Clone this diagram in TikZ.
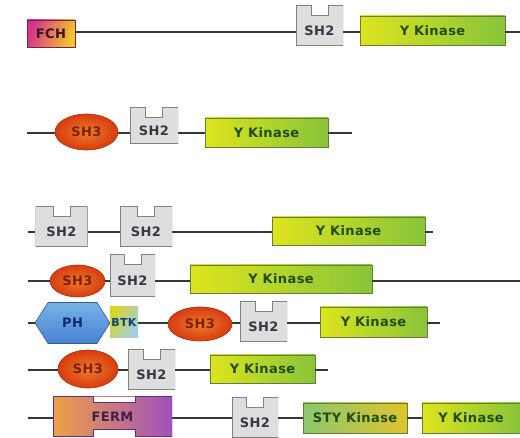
\documentclass[tikz,border=0pt]{standalone}
\usepackage{fontspec}
\usetikzlibrary{shapes.geometric,shapes.symbols}
\newfontfamily\domfont[LetterSpace=3]{DejaVu Sans}
\definecolor{kinYellow}{RGB}{222,228,30}
\definecolor{kinGreen}{RGB}{136,196,58}
\definecolor{kinEdge}{RGB}{96,130,50}
\definecolor{kinText}{RGB}{30,78,20}
\definecolor{styGreen}{RGB}{140,198,110}
\definecolor{styGold}{RGB}{224,196,44}
\definecolor{shTwoFill}{RGB}{222,222,222}
\definecolor{shTwoEdge}{RGB}{130,130,130}
\definecolor{shTwoText}{RGB}{55,55,70}
\definecolor{shThreeIn}{RGB}{242,122,40}
\definecolor{shThreeOut}{RGB}{214,60,16}
\definecolor{shThreeText}{RGB}{120,36,10}
\definecolor{fchPink}{RGB}{212,50,140}
\definecolor{fchYellow}{RGB}{240,200,40}
\definecolor{phLight}{RGB}{120,178,232}
\definecolor{phDark}{RGB}{70,130,208}
\definecolor{phText}{RGB}{20,40,110}
\definecolor{btkYellow}{RGB}{215,215,40}
\definecolor{btkBlue}{RGB}{160,205,230}
\definecolor{fermOrange}{RGB}{240,160,70}
\definecolor{fermPink}{RGB}{210,100,180}
\definecolor{fermPurple}{RGB}{160,80,190}
\definecolor{chainGrey}{RGB}{55,55,55}

\begin{document}
\begin{tikzpicture}[x=1pt, y=-1pt,
    dom/.style={inner sep=0pt, line width=0.6pt, font=\domfont\bfseries\fontsize{13}{13}\selectfont},
    ykin/.style={dom, rectangle, draw=kinEdge, left color=kinYellow, right color=kinGreen, text=kinText, minimum height=29},
    sty/.style={dom, rectangle, draw=kinEdge, left color=styGreen, right color=styGold, text=kinText, minimum height=30},
    sh3/.style={dom, ellipse, draw=shThreeOut!80!black, inner color=shThreeIn, outer color=shThreeOut, text=shThreeText},
    sh2/.style={dom, rectangle, fill=shTwoFill, text=shTwoText, minimum width=47, minimum height=40,
        text height=19.5pt, text depth=0pt,
        path picture={
            \fill[white] ([xshift=-8.5pt]path picture bounding box.north) rectangle ([xshift=8.5pt,yshift=-10pt]path picture bounding box.north);
            \draw[shTwoEdge, line width=1pt] (path picture bounding box.south west) -- (path picture bounding box.north west)
                -- ([xshift=-8.5pt]path picture bounding box.north) -- ++(0pt,-10pt) -- ++(17pt,0pt)
                -- ([xshift=8.5pt]path picture bounding box.north) -- (path picture bounding box.north east)
                -- (path picture bounding box.south east) -- cycle;
        }},
    fch/.style={dom, rectangle, draw=fchPink!60!black, left color=fchPink, right color=fchYellow, shading angle=70, text=fchPink!30!black},
    ph/.style={dom, signal, signal to=west and east, signal pointer angle=115, draw=phDark!70!black, top color=phLight, bottom color=phDark, text=phText},
    btk/.style={dom, rectangle, left color=btkYellow, right color=btkBlue, shading angle=60, text=phText!70!teal, font=\domfont\bfseries\fontsize{11}{11}\selectfont},
    ferm/.style={dom, rectangle, left color=fermOrange, middle color=fermPink, right color=fermPurple, text=fermPurple!40!black,
        path picture={
            \fill[white] ([xshift=40pt]path picture bounding box.north west) rectangle ([xshift=82pt,yshift=-6pt]path picture bounding box.north west);
            \fill[white] ([xshift=40pt]path picture bounding box.south west) rectangle ([xshift=82pt,yshift=7pt]path picture bounding box.south west);
            \draw[fermPurple!60!black, line width=1pt] (path picture bounding box.south west) -- (path picture bounding box.north west)
                -- ++(40pt,0pt) -- ++(0pt,-6pt) -- ++(42pt,0pt) -- ++(0pt,6pt) -- (path picture bounding box.north east)
                -- (path picture bounding box.south east) -- ++(-37pt,0pt) -- ++(0pt,7pt) -- ++(-42pt,0pt) -- ++(0pt,-7pt) -- cycle;
        }},
    chain/.style={chainGrey, line width=1.5pt}
]
\useasboundingbox (0,0) rectangle (520,438);

% row 1
\coordinate (c1) at (520,32);
\node[fch, minimum width=48, minimum height=27] (fch) at (51,33.5) {FCH};
\node[sh2] (sh2a) at (319.5,26) {SH2};
\node[ykin, minimum width=145] (yka) at (432.5,30.5) {Y Kinase};
\foreach \a/\b in {fch/sh2a, sh2a/yka}
    \draw[chain] (c1 -| \a.east) -- (c1 -| \b.west);
\draw[chain] (c1 -| yka.east) -- (c1);

% row 2
\coordinate (n2) at (27,133);
\coordinate (c2) at (352,133);
\node[sh3, minimum width=63, minimum height=36] (sh3b) at (86.5,132) {SH3};
\node[sh2, minimum width=48, minimum height=36] (sh2b) at (154,126) {SH2};
\node[ykin, minimum width=123] (ykb) at (266.5,132.5) {Y Kinase};
\draw[chain] (n2) -- (n2 -| sh3b.west);
\foreach \a/\b in {sh3b/sh2b, sh2b/ykb}
    \draw[chain] (n2 -| \a.east) -- (n2 -| \b.west);
\draw[chain] (n2 -| ykb.east) -- (c2);

% row 3
\coordinate (n3) at (28,232);
\coordinate (c3) at (433,232);
\node[sh2, minimum width=52] (sh2c) at (61.5,227) {SH2};
\node[sh2, minimum width=52] (sh2d) at (146,227) {SH2};
\node[ykin, minimum width=153, minimum height=28] (ykc) at (348.5,231) {Y Kinase};
\draw[chain] (n3) -- (n3 -| sh2c.west);
\foreach \a/\b in {sh2c/sh2d, sh2d/ykc}
    \draw[chain] (n3 -| \a.east) -- (n3 -| \b.west);
\draw[chain] (n3 -| ykc.east) -- (c3);

% row 4
\coordinate (n4) at (28,281);
\coordinate (c4) at (520,281);
\node[sh3, minimum width=55, minimum height=32] (sh3d) at (77.5,281) {SH3};
\node[sh2, minimum width=45, minimum height=42] (sh2e) at (132.5,276) {SH2};
\node[ykin, minimum width=182, minimum height=28] (ykd) at (281,279) {Y Kinase};
\draw[chain] (n4) -- (n4 -| sh3d.west);
\foreach \a/\b in {sh3d/sh2e, sh2e/ykd}
    \draw[chain] (n4 -| \a.east) -- (n4 -| \b.west);
\draw[chain] (n4 -| ykd.east) -- (c4);

% row 5
\coordinate (n5) at (28,323);
\coordinate (c5) at (440,323);
\node[ph, minimum width=75, minimum height=41] (ph) at (72.5,323) {PH};
\node[btk, minimum width=28, minimum height=31] (btk) at (124,322) {BTK};
\node[sh3, minimum width=64, minimum height=34] (sh3e) at (200,324) {SH3};
\node[sh2] (sh2f) at (263.5,322) {SH2};
\node[ykin, minimum width=107, minimum height=30] (yke) at (373.5,322) {Y Kinase};
\draw[chain] (n5) -- (n5 -| ph.west);
\foreach \a/\b in {btk/sh3e, sh3e/sh2f, sh2f/yke}
    \draw[chain] (n5 -| \a.east) -- (n5 -| \b.west);
\draw[chain] (n5 -| yke.east) -- (c5);

% row 6
\coordinate (n6) at (28,370);
\coordinate (c6) at (328,370);
\node[sh3, minimum width=60, minimum height=38] (sh3f) at (88,369) {SH3};
\node[sh2] (sh2g) at (151.5,370) {SH2};
\node[ykin, minimum width=105, minimum height=28] (ykf) at (262.5,369) {Y Kinase};
\draw[chain] (n6) -- (n6 -| sh3f.west);
\foreach \a/\b in {sh3f/sh2g, sh2g/ykf}
    \draw[chain] (n6 -| \a.east) -- (n6 -| \b.west);
\draw[chain] (n6 -| ykf.east) -- (c6);

% row 7
\coordinate (n7) at (28,418);
\node[ferm, minimum width=119, minimum height=40] (ferm) at (112.5,417) {FERM};
\node[sh2, minimum width=46] (sh2h) at (255,418) {SH2};
\node[sty, minimum width=104] (sty) at (355,418) {STY Kinase};
\node[ykin, minimum width=98, minimum height=30] (ykg) at (471,418) {Y Kinase};
\draw[chain] (n7) -- (n7 -| ferm.west);
\foreach \a/\b in {ferm/sh2h, sh2h/sty, sty/ykg}
    \draw[chain] (n7 -| \a.east) -- (n7 -| \b.west);
\end{tikzpicture}
\end{document}
